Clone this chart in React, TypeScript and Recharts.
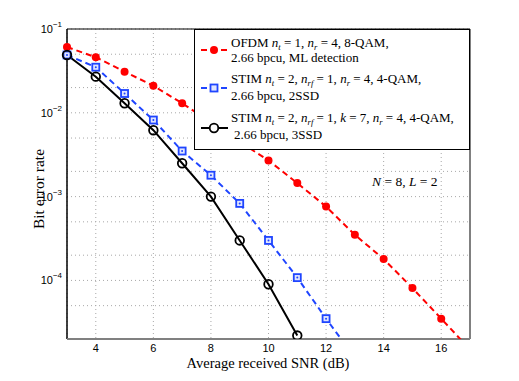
import { LineChart, Line, XAxis, YAxis, CartesianGrid, ReferenceLine } from 'recharts'

// SNR points (dB)
const snr = [3, 4, 5, 6, 7, 8, 9, 10, 11, 12, 13, 14, 15, 16, 17]

// OFDM nt=1, nr=4, 8-QAM, ML detection
const ofdmBer = [0.061, 0.046, 0.031, 0.021, 0.013, 0.0077, 0.0045, 0.0027, 0.00145, 0.00076, 0.00035, 0.00018, 0.000081, 0.000035, 0.000015]
// STIM nt=2, nrf=1, nr=4, 4-QAM, 2SSD
const stim2Ber = [0.049, 0.035, 0.017, 0.0082, 0.0035, 0.0018, 0.00083, 0.0003, 0.000108, 0.000035, 0.000012, null, null, null, null]
// STIM nt=2, nrf=1, k=7, nr=4, 4-QAM, 3SSD
const stim3Ber = [0.049, 0.027, 0.013, 0.0062, 0.0025, 0.001, 0.0003, 0.00009, 0.000022, null, null, null, null, null, null]

const xTicks = [4, 6, 8, 10, 12, 14, 16]
const decades = [1e-5, 1e-4, 1e-3, 1e-2]
const minorSteps = [1, 2, 3, 4, 5, 6, 7, 8, 9]
const yTicks = [...decades.flatMap((d) => minorSteps.map((m) => m * d)).filter((v) => v >= 2e-5), 0.1]

const data = snr.map((s, i) => ({ snr: s, ofdm: ofdmBer[i], stim2: stim2Ber[i], stim3: stim3Ber[i] }))

const SERIF = '"Liberation Serif", "Times New Roman", serif'
const SANS = '"Liberation Sans", Arial, sans-serif'
const RED = '#ff0000'
const BLUE = '#1f45ff'

const YTick = ({ x, y, payload }: any) => {
  const lg = Math.log10(payload.value)
  const e = Math.round(lg)
  if (Math.abs(lg - e) > 1e-6) return null
  return (
    <text x={x - 5} y={y + 4} textAnchor="end" fontFamily={SANS} fontSize={11} fill="#000">
      <tspan>10</tspan>
      <tspan dy={-6} fontSize={8}>{`\u2212${-e}`}</tspan>
    </text>
  )
}

const RedDot = ({ cx, cy }: any) => <circle cx={cx} cy={cy} r={4} fill={RED} />
const BlueSq = ({ cx, cy }: any) => (
  <g>
    <rect x={cx - 3.5} y={cy - 3.5} width={7} height={7} fill="#dfe4ff" stroke={BLUE} strokeWidth={1.8} />
    <circle cx={cx} cy={cy} r={1} fill={BLUE} />
  </g>
)
const BlackCirc = ({ cx, cy }: any) => <circle cx={cx} cy={cy} r={4.3} fill="none" stroke="#000" strokeWidth={1.8} />

type Seg = string | [string, string]

function MathText({ x, y, segs, size = 13 }: { x: number; y: number; segs: Seg[]; size?: number }) {
  const out: any[] = []
  let shift = 0
  segs.forEach((s, i) => {
    if (typeof s === 'string') {
      out.push(<tspan key={i} dy={-shift}>{s}</tspan>)
      shift = 0
    } else {
      out.push(<tspan key={i + 'v'} dy={-shift} fontStyle="italic">{s[0]}</tspan>)
      shift = 0
      if (s[1]) {
        out.push(<tspan key={i + 's'} dy={2.5} fontSize={size * 0.66} fontStyle="italic">{s[1]}</tspan>)
        shift = 2.5
      }
    }
  })
  return (
    <text x={x} y={y} fontFamily={SERIF} fontSize={size} fill="#000" xmlSpace="preserve">
      {out}
    </text>
  )
}

export default function App() {
  return (
    <div style={{ position: 'absolute', left: 0, top: 0, width: 519, height: 381, background: '#fff' }}>
      <LineChart width={519} height={381} data={data} margin={{ top: 29, right: 49, bottom: 6, left: 17 }}>
        <CartesianGrid stroke="#a8a8a8" strokeDasharray="1 3" />
        <XAxis
          dataKey="snr"
          type="number"
          domain={[3, 17]}
          ticks={xTicks}
          height={36}
          axisLine={false}
          tickLine={false}
          tickSize={0}
          tickMargin={5}
          tick={{ fontFamily: SANS, fontSize: 11, fill: '#000' }}
        />
        <YAxis
          scale="log"
          domain={[2e-5, 0.1]}
          allowDataOverflow
          ticks={yTicks}
          width={50}
          axisLine={false}
          tickLine={false}
          tickSize={0}
          tickMargin={0}
          tick={<YTick />}
        />
        <ReferenceLine y={0.1} stroke="#000" strokeWidth={1} />
        <ReferenceLine x={3} stroke="#000" strokeWidth={1.5} />
        <ReferenceLine y={2e-5} stroke="#808080" strokeWidth={2} />
        <ReferenceLine x={17} stroke="#808080" strokeWidth={2} />
        <Line
          dataKey="ofdm"
          stroke={RED}
          strokeWidth={2}
          strokeDasharray="6 4"
          dot={<RedDot />}
          isAnimationActive={false}
        />
        <Line
          dataKey="stim2"
          stroke={BLUE}
          strokeWidth={2}
          strokeDasharray="6 4"
          dot={<BlueSq />}
          isAnimationActive={false}
        />
        <Line dataKey="stim3" stroke="#000" strokeWidth={2} dot={<BlackCirc />} isAnimationActive={false} />
      </LineChart>
      <svg width={519} height={381} style={{ position: 'absolute', left: 0, top: 0, pointerEvents: 'none' }}>
        {/* legend */}
        <rect x={194.5} y={29.5} width={275} height={120} fill="#fff" stroke="#000" strokeWidth={1} />
        <line x1={201} y1={50} x2={228} y2={50} stroke={RED} strokeWidth={2} strokeDasharray="6 4" />
        <circle cx={214} cy={50} r={4} fill={RED} />
        <MathText x={231} y={47} segs={['OFDM ', ['n', 't'], ' = 1, ', ['n', 'r'], ' = 4, 8-QAM,']} />
        <MathText x={231} y={62} segs={['2.66 bpcu, ML detection']} />
        <line x1={201} y1={88} x2={228} y2={88} stroke={BLUE} strokeWidth={2} strokeDasharray="6 4" />
        <rect x={210.5} y={84.5} width={7} height={7} fill="#dfe4ff" stroke={BLUE} strokeWidth={1.8} />
        <MathText x={231} y={83} segs={['STIM ', ['n', 't'], ' = 2, ', ['n', 'rf'], ' = 1, ', ['n', 'r'], ' = 4, 4-QAM,']} />
        <MathText x={231} y={100} segs={['2.66 bpcu, 2SSD']} />
        <line x1={201} y1={128} x2={228} y2={128} stroke="#000" strokeWidth={2} />
        <circle cx={214} cy={128} r={4.3} fill="#fff" stroke="#000" strokeWidth={1.8} />
        <MathText
          x={231}
          y={122}
          segs={['STIM ', ['n', 't'], ' = 2, ', ['n', 'rf'], ' = 1, ', ['k', ''], ' = 7, ', ['n', 'r'], ' = 4, 4-QAM,']}
        />
        <MathText x={234} y={139} segs={['2.66 bpcu, 3SSD']} />
        {/* annotation */}
        <MathText x={372} y={186} size={13.5} segs={[['N', ''], ' = 8, ', ['L', ''], ' = 2']} />
        {/* axis labels */}
        <text x={268} y={368} textAnchor="middle" fontFamily={SERIF} fontSize={14.5}>
          Average received SNR (dB)
        </text>
        <text
          x={44}
          y={189}
          textAnchor="middle"
          fontFamily={SERIF}
          fontSize={15.5}
          transform="rotate(-90 44 189)"
        >
          Bit error rate
        </text>
      </svg>
    </div>
  )
}
